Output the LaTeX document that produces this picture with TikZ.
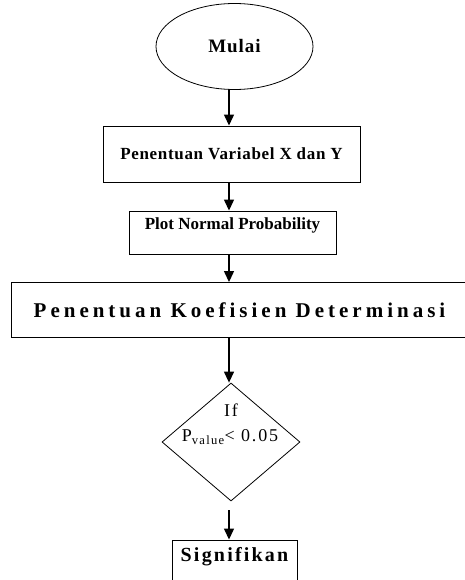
\documentclass[tikz,border=0pt]{standalone}
\usepackage{fontspec}
\setmainfont{Liberation Serif}
\usetikzlibrary{shapes.geometric,arrows.meta}
\newcommand{\lsp}[1]{\addfontfeatures{LetterSpace=#1}}
\begin{document}
\begin{tikzpicture}[x=1pt,y=1pt,
  boxstyle/.style={draw,line width=0.9pt,rectangle,inner sep=0pt},
  bf/.style={font=\bfseries\fontsize{#1}{#1}\selectfont},
  arr/.style={line width=1.3pt,-{Triangle[length=11pt,width=10pt]}},
  txt/.style={inner sep=0pt,font=\fontsize{18}{18}\selectfont\lsp{10}}]
\useasboundingbox (0,0) rectangle (465,-580);
\coordinate (ax) at (229,0);
\node[draw,ellipse,line width=0.8pt,minimum width=157,minimum height=86,inner sep=0pt,bf=19] (start) at (234.5,-46.5) {\lsp{5}Mulai};
\node[boxstyle,minimum width=257,minimum height=56,bf=17] (b1) at (231.5,-154) {\lsp{4}Penentuan Variabel X dan Y};
\node[boxstyle,minimum width=207,minimum height=43,text depth=18pt,bf=17] (b2) at (232.5,-232.5) {\lsp{0}Plot Normal Probability};
\node[boxstyle,minimum width=457,minimum height=55,bf=21] (b3) at (239.5,-310) {\lsp{19}Penentuan Koefisien Determinasi};
\node[draw,diamond,line width=0.8pt,minimum width=138,minimum height=118,inner sep=0pt] (dec) at (231,-442) {};
\node[txt] (iftext) at (231,-410) {If};
\node[txt] (ptext) at (230,-437) {P\textsubscript{value}< 0.05};
\node[boxstyle,minimum width=125,minimum height=50,text depth=22pt,bf=20] (b4) at (234.5,-565) {\lsp{11}Signifikan};
\draw[arr] (ax |- start.south) -- (ax |- b1.north);
\draw[arr] (ax |- b1.south) -- (ax |- b2.north);
\draw[arr] (ax |- b2.south) -- (ax |- b3.north);
\draw[arr] (ax |- b3.south) -- (ax |- dec.north);
\draw[arr] ([yshift=-9pt]ax |- dec.south) -- (ax |- b4.north);
\end{tikzpicture}
\end{document}
